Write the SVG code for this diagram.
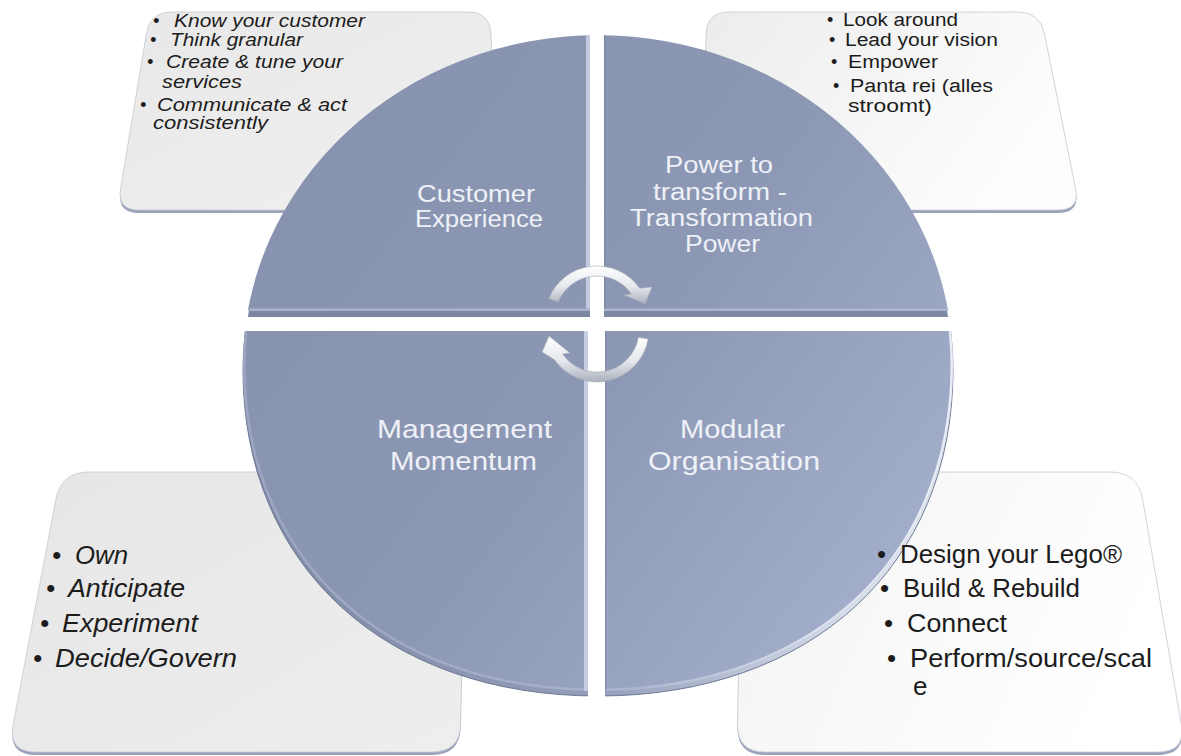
<svg xmlns="http://www.w3.org/2000/svg" width="1181" height="756" viewBox="0 0 1181 756">
  <style>
    .ct { font-family: "Liberation Sans", Arial, sans-serif; fill: #1c1c1c; }
    .it { font-style: italic; }
    .s18 { font-size: 18px; }
    .s26 { font-size: 26px; }
    .lbl { font-family: "Liberation Sans", Arial, sans-serif; fill: #eef1f7; }
    .card-edge { fill: #9aa3b9; }
    .card { stroke: #c3c9d6; stroke-width: 0.8; }
    .arrow { fill: url(#silver); stroke: #a2a8b4; stroke-width: 0.6; }
    .bevel { fill: none; stroke: url(#bevel); stroke-width: 5; }
  </style>
  <defs>
    <!-- disc top face, shared by all quadrants -->
    <path id="disc" d="M243,365 A355,330 0 0 1 953,365 C953,560.6 811,691 598,691 C385,691 243,560.6 243,365 Z"/>
    <clipPath id="disc-clip"><use href="#disc"/></clipPath>
    <clipPath id="q-tl-base"><rect x="0" y="0" width="590" height="317"/></clipPath>
    <clipPath id="q-tl-face"><rect x="0" y="0" width="590" height="311"/></clipPath>
    <clipPath id="q-tr-base"><rect x="604" y="0" width="577" height="317"/></clipPath>
    <clipPath id="q-tr-face"><rect x="604" y="0" width="577" height="311"/></clipPath>
    <clipPath id="q-bl"><rect x="0" y="331" width="588" height="425"/></clipPath>
    <clipPath id="q-br"><rect x="605" y="331" width="576" height="425"/></clipPath>
    <linearGradient id="face" gradientUnits="userSpaceOnUse" x1="260" y1="100" x2="950" y2="620">
      <stop offset="0" stop-color="#8792af"/>
      <stop offset="0.5" stop-color="#8c97b4"/>
      <stop offset="1" stop-color="#a7b2ce"/>
    </linearGradient>
    <linearGradient id="rim" gradientUnits="userSpaceOnUse" x1="243" y1="0" x2="953" y2="0">
      <stop offset="0" stop-color="#7e89a5"/>
      <stop offset="0.5" stop-color="#949eb9"/>
      <stop offset="0.85" stop-color="#d5dcea"/>
      <stop offset="1" stop-color="#e6ebf3"/>
    </linearGradient>
    <linearGradient id="bevel" gradientUnits="userSpaceOnUse" x1="243" y1="0" x2="953" y2="0">
      <stop offset="0" stop-color="#a9b2ca" stop-opacity="0.6"/>
      <stop offset="0.5" stop-color="#b7c0d6" stop-opacity="0.5"/>
      <stop offset="0.8" stop-color="#dfe5f0" stop-opacity="0.9"/>
      <stop offset="1" stop-color="#e9edf5"/>
    </linearGradient>
    <linearGradient id="silver" x1="0" y1="0" x2="0" y2="1">
      <stop offset="0" stop-color="#ffffff"/>
      <stop offset="0.55" stop-color="#e4e7ec"/>
      <stop offset="1" stop-color="#aab0bc"/>
    </linearGradient>
    <linearGradient id="card-tl" x1="0" y1="0" x2="1" y2="1">
      <stop offset="0" stop-color="#e8e8e8"/>
      <stop offset="1" stop-color="#f0f0f0"/>
    </linearGradient>
    <linearGradient id="card-tr" x1="0" y1="0" x2="1" y2="0.4">
      <stop offset="0" stop-color="#ececec"/>
      <stop offset="1" stop-color="#fdfdfd"/>
    </linearGradient>
    <linearGradient id="card-bl" x1="0" y1="0" x2="1" y2="1">
      <stop offset="0" stop-color="#e6e6e6"/>
      <stop offset="1" stop-color="#eeeeee"/>
    </linearGradient>
    <linearGradient id="card-br" x1="0" y1="0" x2="1" y2="0.3">
      <stop offset="0" stop-color="#f3f3f3"/>
      <stop offset="1" stop-color="#ffffff"/>
    </linearGradient>
  </defs>

  <rect width="1181" height="756" fill="#ffffff"/>

  <!-- corner cards (tilted panels behind the disc) -->
  <g id="card-top-left">
    <path class="card-edge" transform="translate(0,3)" d="M172,12 L468,12 Q490,12 490.9,34 L497.1,188 Q498,210 476,210 L139,210 Q117,210 120.6,188.3 L146.4,33.7 Q150,12 172,12 Z"/>
    <path class="card" fill="url(#card-tl)" d="M172,12 L468,12 Q490,12 490.9,34 L497.1,188 Q498,210 476,210 L139,210 Q117,210 120.6,188.3 L146.4,33.7 Q150,12 172,12 Z"/>
  </g>
  <g id="card-top-right">
    <path class="card-edge" transform="translate(0,3)" d="M729,12 L1018,12 Q1040,12 1044.4,33.6 L1075.6,188.4 Q1080,210 1058,210 L722,210 Q700,210 700.8,188 L706.2,34 Q707,12 729,12 Z"/>
    <path class="card" fill="url(#card-tr)" d="M729,12 L1018,12 Q1040,12 1044.4,33.6 L1075.6,188.4 Q1080,210 1058,210 L722,210 Q700,210 700.8,188 L706.2,34 Q707,12 729,12 Z"/>
  </g>
  <g id="card-bottom-left">
    <path class="card-edge" transform="translate(0,3)" d="M89,472 L438,472 Q466,472 465.4,500 L460.6,724 Q460,752 432,752 L36,752 Q8,752 13.2,724.5 L55.8,499.5 Q61,472 89,472 Z"/>
    <path class="card" fill="url(#card-bl)" d="M89,472 L438,472 Q466,472 465.4,500 L460.6,724 Q460,752 432,752 L36,752 Q8,752 13.2,724.5 L55.8,499.5 Q61,472 89,472 Z"/>
  </g>
  <g id="card-bottom-right">
    <path class="card-edge" transform="translate(0,3)" d="M770,472 L1110,472 Q1138,472 1142.7,499.6 L1181.3,724.4 Q1186,752 1158,752 L765,752 Q737,752 737.5,724 L741.5,500 Q742,472 770,472 Z"/>
    <path class="card" fill="url(#card-br)" d="M770,472 L1110,472 Q1138,472 1142.7,499.6 L1181.3,724.4 Q1186,752 1158,752 L765,752 Q737,752 737.5,724 L741.5,500 Q742,472 770,472 Z"/>
  </g>

  <!-- disc quadrants -->
  <g id="quadrant-customer-experience">
    <g clip-path="url(#q-tl-base)"><use href="#disc" transform="translate(0,6)" fill="#7b86a2"/></g>
    <g clip-path="url(#q-tl-face)"><use href="#disc" fill="url(#face)"/></g>
    <g clip-path="url(#disc-clip)">
      <rect x="586" y="30" width="4" height="281" fill="#c2cae0"/>
      <rect x="240" y="308.5" width="350" height="2.5" fill="#a9b3cc"/>
    </g>
    <text class="lbl" font-size="23" x="417" y="201.5" textLength="118" lengthAdjust="spacingAndGlyphs">Customer</text>
    <text class="lbl" font-size="23" x="415" y="227" textLength="128" lengthAdjust="spacingAndGlyphs">Experience</text>
  </g>
  <g id="quadrant-power-to-transform">
    <g clip-path="url(#q-tr-base)"><use href="#disc" transform="translate(0,6)" fill="#7d88a4"/></g>
    <g clip-path="url(#q-tr-face)"><use href="#disc" fill="url(#face)"/></g>
    <g clip-path="url(#disc-clip)">
      <rect x="604" y="30" width="1.2" height="281" fill="#7c87a4"/>
      <rect x="604" y="308.5" width="350" height="2.5" fill="#acb6cf"/>
    </g>
    <text class="lbl" font-size="23" x="665" y="173" textLength="108" lengthAdjust="spacingAndGlyphs">Power to</text>
    <text class="lbl" font-size="23" x="653" y="200" textLength="134" lengthAdjust="spacingAndGlyphs">transform -</text>
    <text class="lbl" font-size="23" x="630" y="226" textLength="183" lengthAdjust="spacingAndGlyphs">Transformation</text>
    <text class="lbl" font-size="23" x="685" y="252" textLength="75" lengthAdjust="spacingAndGlyphs">Power</text>
  </g>
  <g id="quadrant-management-momentum">
    <g clip-path="url(#q-bl)"><use href="#disc" transform="translate(0,5)" fill="url(#rim)" stroke="#6e7995" stroke-width="1"/></g>
    <g clip-path="url(#q-bl)"><use href="#disc" fill="url(#face)"/></g>
    <g clip-path="url(#q-bl)"><g clip-path="url(#disc-clip)"><use href="#disc" class="bevel"/></g></g>
    <g clip-path="url(#disc-clip)">
      <rect x="584" y="331" width="4" height="365" fill="#c6cee3"/>
    </g>
    <text class="lbl" font-size="25" x="377" y="438" textLength="175" lengthAdjust="spacingAndGlyphs">Management</text>
    <text class="lbl" font-size="25" x="390" y="470" textLength="147" lengthAdjust="spacingAndGlyphs">Momentum</text>
  </g>
  <g id="quadrant-modular-organisation">
    <g clip-path="url(#q-br)"><use href="#disc" transform="translate(0,5)" fill="url(#rim)" stroke="#6e7995" stroke-width="1"/></g>
    <g clip-path="url(#q-br)"><use href="#disc" fill="url(#face)"/></g>
    <g clip-path="url(#q-br)"><g clip-path="url(#disc-clip)"><use href="#disc" class="bevel"/></g></g>
    <g clip-path="url(#disc-clip)">
      <rect x="605" y="331" width="1.2" height="365" fill="#7f8aa7"/>
    </g>
    <text class="lbl" font-size="25" x="680" y="438" textLength="105" lengthAdjust="spacingAndGlyphs">Modular</text>
    <text class="lbl" font-size="25" x="648" y="470" textLength="172" lengthAdjust="spacingAndGlyphs">Organisation</text>
  </g>

  <!-- cycle arrows in the centre -->
  <g id="connectors">
    <path class="arrow" d="M548.8,298.5 A52,52 0 0 1 639.6,288.2 L652,287 L645,304 L624,295 L631.4,293.9 A42,42 0 0 0 558.1,302.3 Z"/>
    <path class="arrow" d="M648.2,339 A52,52 0 0 1 554.4,359.8 L542,352 L549,336 L570,353 L562.6,354.1 A42,42 0 0 0 638.4,337.3 Z"/>
  </g>

  <!-- card bullet lists, drawn over the disc rim -->
  <g id="card-top-left-text" class="ct it s18">
    <text x="153" y="26.5">•</text>
    <text x="174" y="26.5" textLength="191" lengthAdjust="spacingAndGlyphs">Know your customer</text>
    <text x="150" y="46">•</text>
    <text x="170" y="46" textLength="133" lengthAdjust="spacingAndGlyphs">Think granular</text>
    <text x="147" y="68">•</text>
    <text x="166" y="68" textLength="177" lengthAdjust="spacingAndGlyphs">Create &amp; tune your</text>
    <text x="162" y="87.5" textLength="80" lengthAdjust="spacingAndGlyphs">services</text>
    <text x="140" y="111">•</text>
    <text x="157" y="111" textLength="190" lengthAdjust="spacingAndGlyphs">Communicate &amp; act</text>
    <text x="153" y="129" textLength="115" lengthAdjust="spacingAndGlyphs">consistently</text>
  </g>
  <g id="card-top-right-text" class="ct s18">
    <text x="827" y="26">•</text>
    <text x="843" y="26" textLength="115" lengthAdjust="spacingAndGlyphs">Look around</text>
    <text x="829" y="46">•</text>
    <text x="845" y="46" textLength="153" lengthAdjust="spacingAndGlyphs">Lead your vision</text>
    <text x="831" y="68">•</text>
    <text x="848" y="68" textLength="90" lengthAdjust="spacingAndGlyphs">Empower</text>
    <text x="833" y="92">•</text>
    <text x="850" y="92" textLength="143" lengthAdjust="spacingAndGlyphs">Panta rei (alles</text>
    <text x="848" y="112" textLength="84" lengthAdjust="spacingAndGlyphs">stroomt)</text>
  </g>
  <g id="card-bottom-left-text" class="ct it s26">
    <text x="52" y="564">•</text>
    <text x="75" y="564" textLength="53" lengthAdjust="spacingAndGlyphs">Own</text>
    <text x="46" y="597">•</text>
    <text x="68" y="597" textLength="117" lengthAdjust="spacingAndGlyphs">Anticipate</text>
    <text x="40" y="632">•</text>
    <text x="62" y="632" textLength="136" lengthAdjust="spacingAndGlyphs">Experiment</text>
    <text x="33" y="667">•</text>
    <text x="55" y="667" textLength="182" lengthAdjust="spacingAndGlyphs">Decide/Govern</text>
  </g>
  <g id="card-bottom-right-text" class="ct s26">
    <text x="877" y="563">•</text>
    <text x="900" y="563" textLength="222" lengthAdjust="spacingAndGlyphs">Design your Lego®</text>
    <text x="880" y="597">•</text>
    <text x="903" y="597" textLength="177" lengthAdjust="spacingAndGlyphs">Build &amp; Rebuild</text>
    <text x="884" y="632">•</text>
    <text x="907" y="632" textLength="100" lengthAdjust="spacingAndGlyphs">Connect</text>
    <text x="887" y="667">•</text>
    <text x="910" y="667" textLength="242" lengthAdjust="spacingAndGlyphs">Perform/source/scal</text>
    <text x="913" y="695">e</text>
  </g>
</svg>
